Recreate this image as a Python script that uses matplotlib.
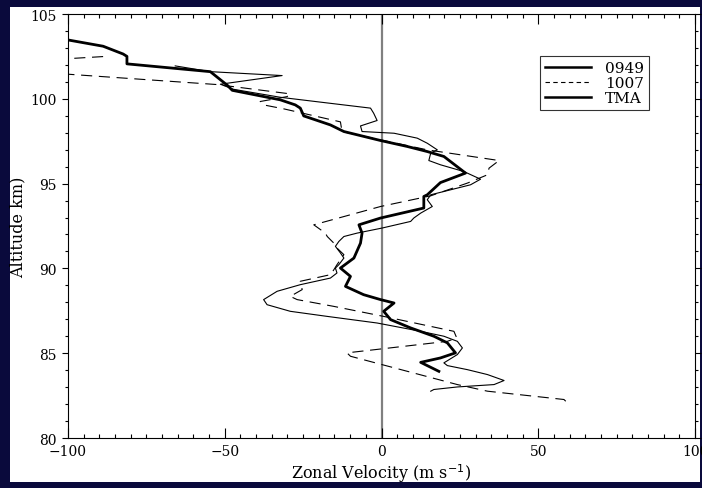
import matplotlib
matplotlib.use("Agg")
import matplotlib.pyplot as plt
from matplotlib.patches import Rectangle
from matplotlib.lines import Line2D
from matplotlib.ticker import MultipleLocator

# ---- data ----
tma_alt = [103.47, 103.1, 102.64, 102.5, 102.06, 101.6, 100.8, 100.5, 99.94, 99.64,
           99.45, 98.99, 98.46, 98.07, 97.54, 97.19, 96.89, 96.6, 95.62, 95.06,
           94.34, 94.24, 93.56, 92.97, 92.57, 92.08, 91.49, 90.61, 90.02, 89.53,
           88.94, 88.45, 88.16, 87.96, 87.47, 86.98, 86.49, 86.0, 85.61, 85.02,
           84.72, 84.46, 83.93]
tma_vel = [-100, -88.8, -82.4, -81.2, -81.2, -54.6, -49.2, -47.6, -32.3, -27.5,
           -25.9, -24.8, -16.3, -12.0, -0.3, 8.2, 14.6, 19.9, 26.8, 18.8,
           14.6, 13.5, 13.5, -0.3, -7.2, -6.2, -6.7, -8.8, -13.1, -9.9,
           -11.5, -5.7, -0.3, 4.0, 0.7, 2.9, 9.3, 16.7, 21.0, 23.6,
           18.8, 12.5, 18.3]

r0949_alt = [101.94, 101.6, 101.37, 100.86, 100.56, 100.09, 99.78, 99.45, 99.15, 98.72,
             98.40, 98.07, 97.97, 97.68, 97.38, 96.99, 96.8, 96.36, 96.11, 95.71,
             95.26, 94.93, 94.34, 94.05, 93.65, 93.26, 92.97, 92.77, 92.38, 92.08,
             91.88, 91.59, 91.30, 90.91, 90.61, 90.22, 90.02, 89.73, 89.43, 89.04,
             88.65, 88.16, 87.86, 87.47, 87.17, 86.78, 86.29, 86.0, 85.70, 85.31,
             84.92, 84.43, 84.27, 84.03, 83.74, 83.39, 83.15, 83.01, 82.86, 82.76]
r0949_vel = [-65.8, -54.6, -31.7, -51.4, -47.2, -32.3, -18.4, -3.5, -2.5, -1.4,
             -6.7, -6.2, 4.0, 11.4, 14.6, 17.8, 15.7, 15.1, 18.8, 26.3,
             31.6, 28.4, 15.7, 14.6, 16.2, 12.5, 10.3, 9.3, 0.2, -7.8,
             -12.0, -13.6, -14.7, -13.1, -12.0, -13.6, -14.7, -14.2, -16.3, -25.9,
             -33.3, -37.6, -36.5, -29.1, -17.3, -1.4, 12.5, 19.9, 24.2, 25.8,
             24.2, 19.9, 21.0, 27.4, 33.8, 39.1, 35.9, 24.2, 16.7, 15.7]

r1007_alt = [102.49, 102.2, 101.5, 101.45, 100.84, 100.29, 100.13, 99.84, 99.64, 99.40,
             98.64, 98.07, 97.58, 96.99, 96.36, 95.91, 95.52, 95.03, 94.28, 93.65,
             92.57, 92.08, 91.88, 91.49, 91.20, 90.81, 90.51, 90.22, 89.92, 89.63,
             89.24, 88.75, 88.35, 88.16, 87.76, 87.17, 86.29, 85.9, 85.7, 85.02,
             84.82, 83.15, 82.76, 82.27, 82.07]
r1007_vel = [-88.8, -115, -120, -100, -52.5, -29.1, -30.1, -38.7, -37.6, -31.0,
             -13.1, -12.6, -0.3, 14.6, 37.5, 34.3, 33.8, 27.4, 15.7, -0.3,
             -21.6, -17.9, -17.3, -15.2, -14.2, -12.0, -13.1, -14.2, -15.2, -16.3,
             -25.9, -25.3, -29.1, -26.9, -15.2, 0.7, 23.1, 24.0, 21.0, -11.0,
             -9.9, 24.2, 33.8, 58.2, 59.3]

series_labels = ["0949", "1007", "TMA"]
x_ticks = [-100, -50, 0, 50, 100]
y_ticks = [80, 85, 90, 95, 100, 105]

# ---- figure ----
W, H = 702, 489
fig = plt.figure(figsize=(W / 100, H / 100), dpi=100)
fig.patch.set_facecolor("#0a0a3c")
bg = Rectangle((10 / W, 1 - 483 / H), 690 / W, 475 / H,
               transform=fig.transFigure, facecolor="white",
               edgecolor="none", zorder=-10)
fig.add_artist(bg)

ax = fig.add_axes([68 / W, 1 - 439 / H, (695 - 68) / W, (439 - 15) / H])
ax.set_zorder(1)
ax.set_facecolor("white")

font = {"family": "DejaVu Serif", "size": 11.5}

ax.axvline(0, color="#808080", lw=1.6, zorder=1)
ax.plot(r0949_vel, r0949_alt, color="black", lw=0.8, zorder=2)
ax.plot(r1007_vel, r1007_alt, color="black", lw=0.8, linestyle=(0, (10, 6)), zorder=2)
ax.plot(tma_vel, tma_alt, color="black", lw=2.0, zorder=3)

ax.set_xlim(-100, 100)
ax.set_ylim(80, 105)
ax.set_xticks(x_ticks)
ax.set_yticks(y_ticks)
ax.xaxis.set_minor_locator(MultipleLocator(5))
ax.yaxis.set_minor_locator(MultipleLocator(1))
ax.tick_params(axis="x", which="both", direction="in", top=True, bottom=True)
ax.tick_params(axis="y", which="both", direction="out", left=True, right=True)
ax.tick_params(axis="x", which="major", length=7, width=0.8)
ax.tick_params(axis="x", which="minor", length=3.2, width=0.8)
ax.tick_params(axis="y", which="major", length=4.5, width=0.8)
ax.tick_params(axis="y", which="minor", length=2.3, width=0.8)
ax.tick_params(labelsize=10, pad=4)
for lab in ax.get_xticklabels() + ax.get_yticklabels():
    lab.set_fontfamily("DejaVu Serif")
for s in ax.spines.values():
    s.set_linewidth(0.8)

ax.set_xlabel("Zonal Velocity (m s$^{-1}$)", fontdict=font, labelpad=3)
ax.set_ylabel("Altitude km)", fontdict=font)
ax.yaxis.set_label_coords((26 - 68) / 627, 0.5)

handles = [Line2D([], [], color="black", lw=1.8),
           Line2D([], [], color="black", lw=0.8, linestyle=(0, (4, 3))),
           Line2D([], [], color="black", lw=1.8)]
leg = ax.legend(handles, series_labels, loc="upper left",
                bbox_to_anchor=((540 - 68) / 627, (439 - 57) / 424),
                prop={"family": "DejaVu Serif", "size": 11},
                frameon=True, fancybox=False, edgecolor="black",
                borderpad=0.35, labelspacing=0.05, handlelength=3.0,
                handletextpad=0.9, borderaxespad=0, handleheight=0.7)
leg.get_frame().set_linewidth(0.8)

fig.savefig("out.png", dpi=100, facecolor=fig.get_facecolor())
